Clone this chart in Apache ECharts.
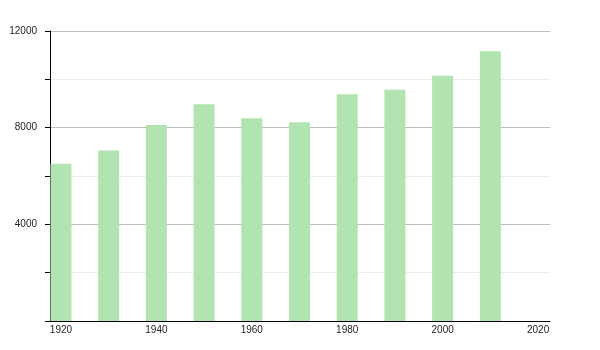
<!DOCTYPE html>
<html>
<head>
<meta charset="utf-8">
<script src="https://cdn.jsdelivr.net/npm/echarts@6/dist/echarts.min.js"></script>
<style>html,body{margin:0;padding:0;background:#fff}#c{width:600px;height:350px}</style>
</head>
<body>
<div id="c"></div>
<script>
var years = [1920, 1930, 1940, 1950, 1960, 1970, 1980, 1990, 2000, 2010];
var population = [6510, 7060, 8110, 8970, 8390, 8220, 9380, 9570, 10150, 11160];
var xTickLabels = [1920, 1940, 1960, 1980, 2000, 2020];
var yTickLabels = [4000, 8000, 12000];

var chart = echarts.init(document.getElementById('c'), null, {renderer: 'canvas'});
chart.setOption({
  animation: false,
  backgroundColor: '#fff',
  grid: {left: 50, right: 50, top: 31, bottom: 29, containLabel: false},
  xAxis: {
    type: 'value',
    min: 1917.7,
    max: 2022.5,
    axisLine: {show: true, lineStyle: {color: '#000', width: 1}},
    axisTick: {show: false},
    splitLine: {show: false},
    axisLabel: {
      customValues: xTickLabels,
      color: '#222',
      fontFamily: 'Liberation Sans, Arial, sans-serif',
      fontSize: 10,
      margin: 4,
      formatter: function (v) { return String(v); }
    }
  },
  yAxis: {
    type: 'value',
    min: 0,
    max: 12000,
    interval: 2000,
    axisLine: {show: true, lineStyle: {color: '#000', width: 1}},
    axisTick: {show: true, length: 5, lineStyle: {color: '#000'}},
    splitLine: {show: true, lineStyle: {color: ['#bdbdbd', '#ececec'], width: 1}},
    axisLabel: {
      color: '#222',
      fontFamily: 'Liberation Sans, Arial, sans-serif',
      fontSize: 10,
      margin: 13,
      formatter: function (v) { return yTickLabels.indexOf(v) >= 0 ? String(v) : ''; }
    }
  },
  series: [{
    type: 'bar',
    barWidth: 21,
    itemStyle: {color: '#b2e4b2'},
    data: years.map(function (y, i) { return [y, population[i]]; })
  }]
});
</script>
</body>
</html>
